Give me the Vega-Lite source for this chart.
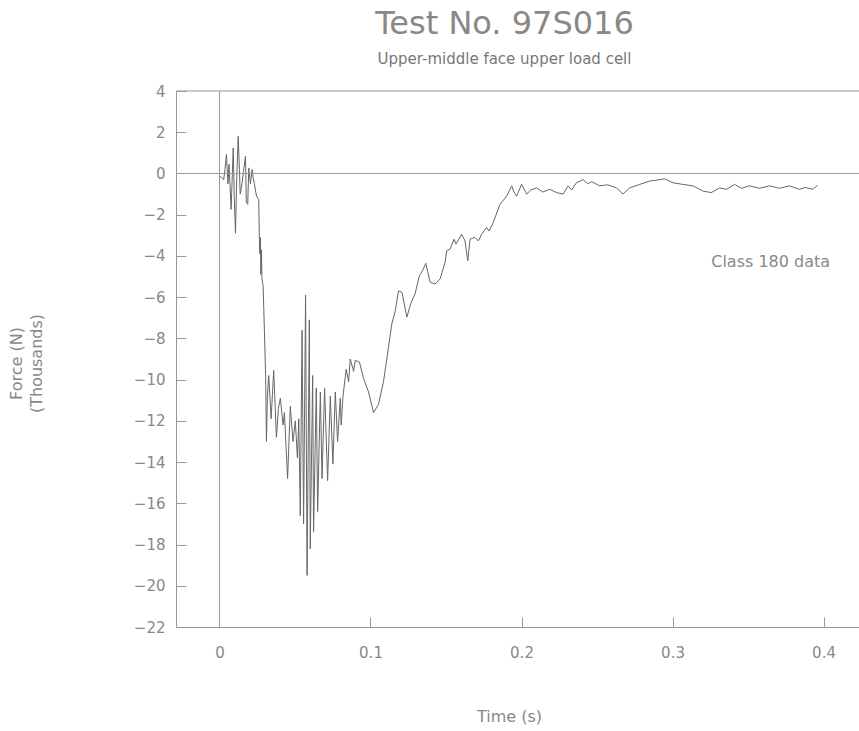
{
  "$schema": "https://vega.github.io/schema/vega-lite/v6.json",
  "width": 683,
  "height": 536,
  "autosize": "none",
  "padding": {"left": 176, "top": 91, "right": 0, "bottom": 104},
  "background": "white",
  "title": {
    "text": "Test No. 97S016",
    "subtitle": "Upper-middle face upper load cell",
    "font": "DejaVu Sans",
    "subtitleFont": "DejaVu Sans",
    "fontSize": 32,
    "subtitleFontSize": 15,
    "fontWeight": "normal",
    "color": "#888",
    "subtitleColor": "#777",
    "anchor": "middle",
    "dx": -13,
    "offset": 16,
    "subtitlePadding": 11
  },
  "config": {
    "view": {"stroke": null},
    "axis": {
      "grid": false,
      "domainColor": "#999",
      "tickColor": "#999",
      "labelColor": "#888",
      "titleColor": "#888",
      "labelFont": "DejaVu Sans",
      "titleFont": "DejaVu Sans",
      "labelFontSize": 15,
      "titleFontSize": 16,
      "titleFontWeight": "normal",
      "tickSize": -10
    }
  },
  "datasets": {
    "trace": [
      {"t":0.0000,"F":-0.1},{"t":0.0020,"F":-0.25},{"t":0.0028,"F":-0.3},{"t":0.0036,"F":0.2},{"t":0.0046,"F":0.92},
      {"t":0.0056,"F":-0.5},{"t":0.0063,"F":0.45},{"t":0.0077,"F":-1.74},{"t":0.0091,"F":1.24},{"t":0.0098,"F":-1.2},
      {"t":0.0106,"F":-2.9},{"t":0.0114,"F":-0.3},{"t":0.0124,"F":1.8},{"t":0.0132,"F":0.2},{"t":0.0137,"F":-1.0},
      {"t":0.0150,"F":-0.45},{"t":0.0159,"F":0.1},{"t":0.0172,"F":0.84},{"t":0.0178,"F":-1.4},{"t":0.0187,"F":-1.5},
      {"t":0.0194,"F":0.27},{"t":0.0205,"F":-0.5},{"t":0.0216,"F":0.2},{"t":0.0223,"F":-0.2},{"t":0.0231,"F":-0.5},
      {"t":0.0245,"F":-1.1},{"t":0.0260,"F":-1.26},{"t":0.0264,"F":-3.2},{"t":0.0268,"F":-3.9},{"t":0.0271,"F":-3.1},
      {"t":0.0274,"F":-4.9},{"t":0.0278,"F":-3.7},{"t":0.0281,"F":-5.1},{"t":0.0289,"F":-5.45},{"t":0.0297,"F":-7.5},
      {"t":0.0306,"F":-9.95},{"t":0.0311,"F":-13.0},{"t":0.0317,"F":-10.9},{"t":0.0326,"F":-9.8},{"t":0.0342,"F":-11.9},
      {"t":0.0359,"F":-9.55},{"t":0.0377,"F":-12.8},{"t":0.0390,"F":-11.4},{"t":0.0403,"F":-10.9},{"t":0.0421,"F":-12.2},
      {"t":0.0430,"F":-11.6},{"t":0.0451,"F":-14.8},{"t":0.0469,"F":-11.3},{"t":0.0487,"F":-13.0},{"t":0.0502,"F":-12.0},
      {"t":0.0516,"F":-13.8},{"t":0.0525,"F":-11.9},{"t":0.0535,"F":-16.6},{"t":0.0547,"F":-7.6},{"t":0.0557,"F":-17.0},
      {"t":0.0570,"F":-5.9},{"t":0.0580,"F":-19.5},{"t":0.0595,"F":-7.1},{"t":0.0601,"F":-18.2},{"t":0.0617,"F":-9.8},
      {"t":0.0623,"F":-17.4},{"t":0.0641,"F":-10.4},{"t":0.0650,"F":-16.4},{"t":0.0668,"F":-10.6},{"t":0.0679,"F":-14.8},
      {"t":0.0696,"F":-10.4},{"t":0.0716,"F":-14.9},{"t":0.0734,"F":-10.8},{"t":0.0751,"F":-14.1},{"t":0.0767,"F":-10.6},
      {"t":0.0782,"F":-13.0},{"t":0.0800,"F":-10.9},{"t":0.0806,"F":-12.2},{"t":0.0818,"F":-10.8},{"t":0.0839,"F":-9.5},
      {"t":0.0855,"F":-10.1},{"t":0.0866,"F":-9.0},{"t":0.0888,"F":-9.6},{"t":0.0899,"F":-9.07},{"t":0.0927,"F":-9.15},
      {"t":0.0954,"F":-9.95},{"t":0.0987,"F":-10.6},{"t":0.1020,"F":-11.6},{"t":0.1053,"F":-11.2},{"t":0.1086,"F":-10.1},
      {"t":0.1108,"F":-9.0},{"t":0.1141,"F":-7.3},{"t":0.1163,"F":-6.7},{"t":0.1185,"F":-5.7},{"t":0.1208,"F":-5.76},
      {"t":0.1241,"F":-6.97},{"t":0.1267,"F":-6.3},{"t":0.1295,"F":-5.85},{"t":0.1324,"F":-4.96},{"t":0.1344,"F":-4.72},
      {"t":0.1366,"F":-4.36},{"t":0.1395,"F":-5.28},{"t":0.1428,"F":-5.36},{"t":0.1461,"F":-5.12},{"t":0.1494,"F":-4.3},
      {"t":0.1505,"F":-3.75},{"t":0.1527,"F":-3.67},{"t":0.1553,"F":-3.19},{"t":0.1566,"F":-3.43},{"t":0.1604,"F":-2.95},
      {"t":0.1626,"F":-3.27},{"t":0.1644,"F":-4.24},{"t":0.1659,"F":-3.19},{"t":0.1692,"F":-3.1},{"t":0.1714,"F":-3.27},
      {"t":0.1736,"F":-2.95},{"t":0.1769,"F":-2.62},{"t":0.1785,"F":-2.79},{"t":0.1813,"F":-2.38},{"t":0.1857,"F":-1.5},
      {"t":0.1902,"F":-1.1},{"t":0.1935,"F":-0.6},{"t":0.1950,"F":-0.9},{"t":0.1968,"F":-1.1},{"t":0.2001,"F":-0.53},
      {"t":0.2034,"F":-1.0},{"t":0.2062,"F":-0.8},{"t":0.2100,"F":-0.7},{"t":0.2141,"F":-0.9},{"t":0.2188,"F":-0.77},
      {"t":0.2232,"F":-0.93},{"t":0.2276,"F":-1.0},{"t":0.2309,"F":-0.6},{"t":0.2333,"F":-0.8},{"t":0.2364,"F":-0.45},
      {"t":0.2408,"F":-0.3},{"t":0.2439,"F":-0.5},{"t":0.2465,"F":-0.4},{"t":0.2518,"F":-0.6},{"t":0.2571,"F":-0.55},
      {"t":0.2629,"F":-0.7},{"t":0.2672,"F":-1.0},{"t":0.2716,"F":-0.7},{"t":0.2783,"F":-0.53},{"t":0.2849,"F":-0.37},
      {"t":0.2915,"F":-0.3},{"t":0.2948,"F":-0.26},{"t":0.3003,"F":-0.45},{"t":0.3067,"F":-0.53},{"t":0.3135,"F":-0.6},
      {"t":0.3201,"F":-0.85},{"t":0.3256,"F":-0.93},{"t":0.3311,"F":-0.7},{"t":0.3358,"F":-0.77},{"t":0.3411,"F":-0.53},
      {"t":0.3457,"F":-0.72},{"t":0.3510,"F":-0.6},{"t":0.3576,"F":-0.72},{"t":0.3642,"F":-0.6},{"t":0.3708,"F":-0.72},
      {"t":0.3774,"F":-0.6},{"t":0.3840,"F":-0.77},{"t":0.3880,"F":-0.68},{"t":0.3928,"F":-0.77},{"t":0.3961,"F":-0.58}
    ],
    "hrules": [{"F": 0}, {"F": 4}],
    "vrules": [{"t": 0}],
    "notes": [{"t": 0.365, "F": -4.3, "label": "Class 180 data"}]
  },
  "layer": [
    {
      "data": {"name": "trace"},
      "mark": {"type": "line", "color": "#666", "strokeWidth": 1},
      "encoding": {
        "x": {
          "field": "t", "type": "quantitative",
          "scale": {"domain": [-0.0288, 0.4235], "nice": false, "zero": false},
          "axis": {
            "title": "Time (s)",
            "values": [0, 0.1, 0.2, 0.3, 0.4],
            "format": "~g",
            "labelPadding": 28,
            "labelFlush": false,
            "titleX": 333,
            "titleY": 89,
            "titleAlign": "center",
            "titleBaseline": "middle"
          }
        },
        "y": {
          "field": "F", "type": "quantitative",
          "scale": {"domain": [-22, 4], "nice": false, "zero": false},
          "axis": {
            "title": ["Force (N)", "(Thousands)"],
            "values": [-22, -20, -18, -16, -14, -12, -10, -8, -6, -4, -2, 0, 2, 4],
            "labelPadding": 21,
            "labelFlush": false,
            "titleAngle": -90,
            "titleX": -160,
            "titleY": 272,
            "titleAlign": "center",
            "titleBaseline": "middle",
            "titleLineHeight": 20
          }
        }
      }
    },
    {
      "data": {"name": "hrules"},
      "mark": {"type": "rule", "color": "#999", "strokeWidth": 1},
      "encoding": {
        "y": {"field": "F", "type": "quantitative", "scale": {"domain": [-22, 4], "nice": false, "zero": false}}
      }
    },
    {
      "data": {"name": "vrules"},
      "mark": {"type": "rule", "color": "#999", "strokeWidth": 1},
      "encoding": {
        "x": {"field": "t", "type": "quantitative", "scale": {"domain": [-0.0288, 0.4235], "nice": false, "zero": false}}
      }
    },
    {
      "data": {"name": "notes"},
      "mark": {"type": "text", "font": "DejaVu Sans", "fontSize": 16, "color": "#888", "align": "center", "baseline": "middle"},
      "encoding": {
        "x": {"field": "t", "type": "quantitative", "scale": {"domain": [-0.0288, 0.4235], "nice": false, "zero": false}},
        "y": {"field": "F", "type": "quantitative", "scale": {"domain": [-22, 4], "nice": false, "zero": false}},
        "text": {"field": "label"}
      }
    }
  ]
}
